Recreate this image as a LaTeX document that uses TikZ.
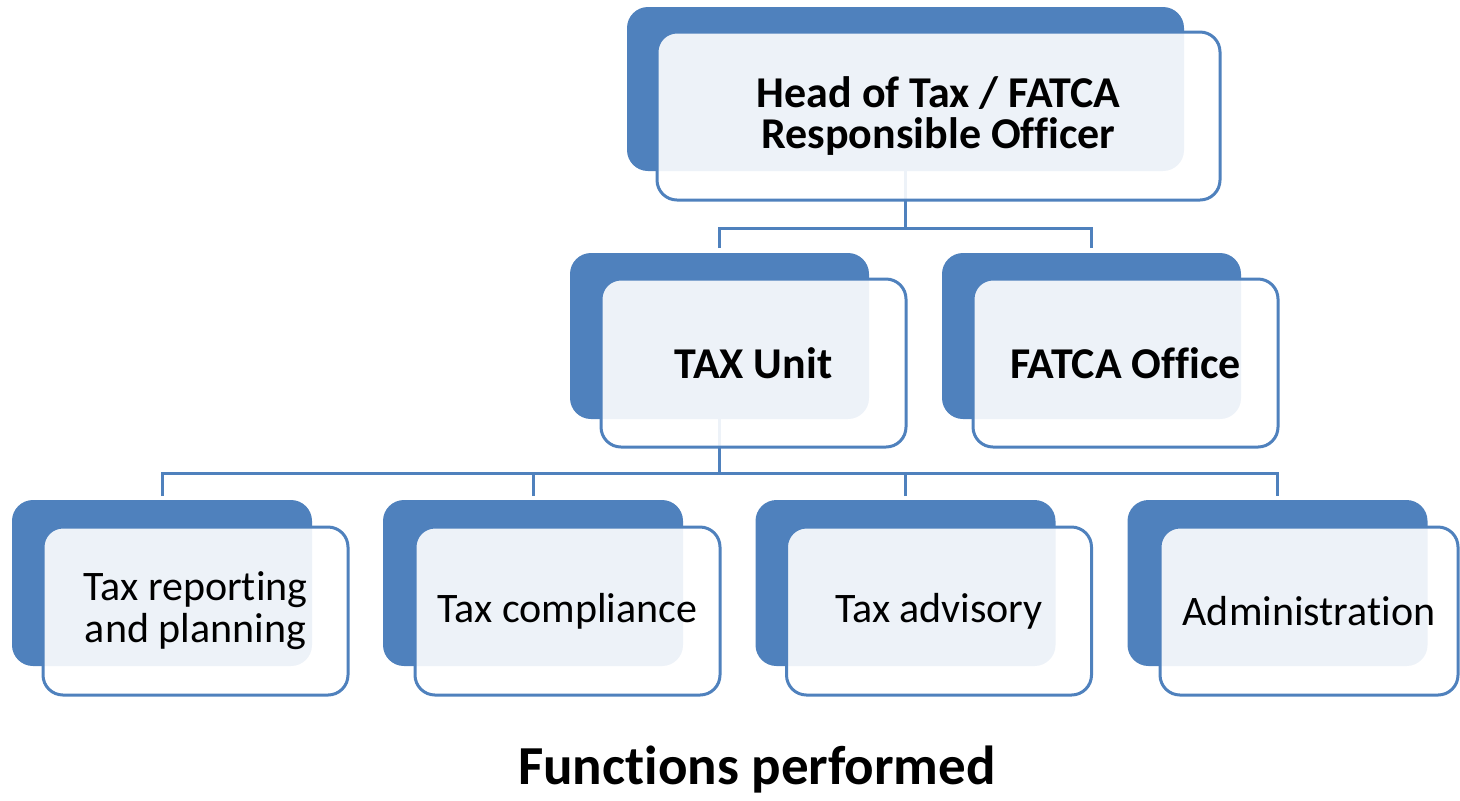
\documentclass[tikz,border=0pt]{standalone}
\usepackage{fontspec}
\setmainfont{Carlito}[Ligatures=NoCommon]
\usetikzlibrary{positioning}
\definecolor{orgblue}{RGB}{79,129,189}
\tikzset{
  backbox/.style={fill=orgblue, draw=orgblue, line width=1pt, rounded corners=10pt, inner sep=0pt, outer sep=0pt},
  frontbox/.style={fill=white, fill opacity=0.9, text opacity=1, draw=orgblue, line width=1.5pt, rounded corners=10pt, align=center, inner sep=0pt, outer sep=0pt, minimum height=84pt},
  toptext/.style={font=\fontsize{22pt}{20.5pt}\selectfont\bfseries},
  subtext/.style={font=\fontsize{21pt}{21pt}\selectfont},
  link/.style={draw=orgblue, line width=1.5pt},
}
\begin{document}
\begin{tikzpicture}[x=0.5pt,y=-0.5pt]
\useasboundingbox (0,0) rectangle (1460,800);
% back plates
\node[backbox, minimum width=277.5pt, minimum height=81pt] (head) at (905.5,89) {};
\node[backbox, minimum width=148.5pt, minimum height=82pt] (taxunit) at (719.5,336) {};
\node[backbox, minimum width=148.5pt, minimum height=82pt] (fatca) at (1091.5,336) {};
\node[backbox, minimum width=149pt, minimum height=82pt] (report) at (162,583) {};
\node[backbox, minimum width=149pt, minimum height=82pt] (comply) at (533,583) {};
\node[backbox, minimum width=149pt, minimum height=82pt] (advise) at (905.5,583) {};
\node[backbox, minimum width=149pt, minimum height=82pt] (admin) at (1277.5,583) {};
% connectors
\draw[link] (head.south) -- ++(0,58) coordinate (j1);
\draw[link] (taxunit.north) ++(0,-6) |- (j1) -| ([yshift=3pt]fatca.north);
\draw[link] (taxunit.south) -- ++(0,55) coordinate (j2);
\draw[link] ([yshift=2.5pt]report.north) |- (j2) -| ([yshift=2.5pt]admin.north);
\draw[link] ([yshift=2.5pt]comply.north) -- (comply.north |- j2);
\draw[link] ([yshift=2.5pt]advise.north) -- (advise.north |- j2);
% front cards
\node[frontbox, toptext, minimum width=281.5pt] (headF) at (938.5,116) {Head of Tax / FATCA\\Responsible Officer};
\node[frontbox, toptext, minimum width=152.5pt] (taxunitF) at (753.5,363) {TAX Unit};
\node[frontbox, toptext, minimum width=152.5pt] (fatcaF) at (1125.5,363) {FATCA Office};
\node[frontbox, subtext, minimum width=152.5pt] (reportF) at (195.5,611) {Tax reporting\\and planning};
\node[frontbox, subtext, minimum width=152.5pt] (complyF) at (567.5,611) {Tax compliance};
\node[frontbox, subtext, minimum width=152.5pt] (adviseF) at (939,611) {Tax advisory};
\node[frontbox, subtext, minimum width=149pt] (adminF) at (1309,611) {Administration};
% caption
\node[font=\fontsize{27.5pt}{32pt}\selectfont\bfseries] (caption) at (757,770) {Functions performed};
\end{tikzpicture}
\end{document}
